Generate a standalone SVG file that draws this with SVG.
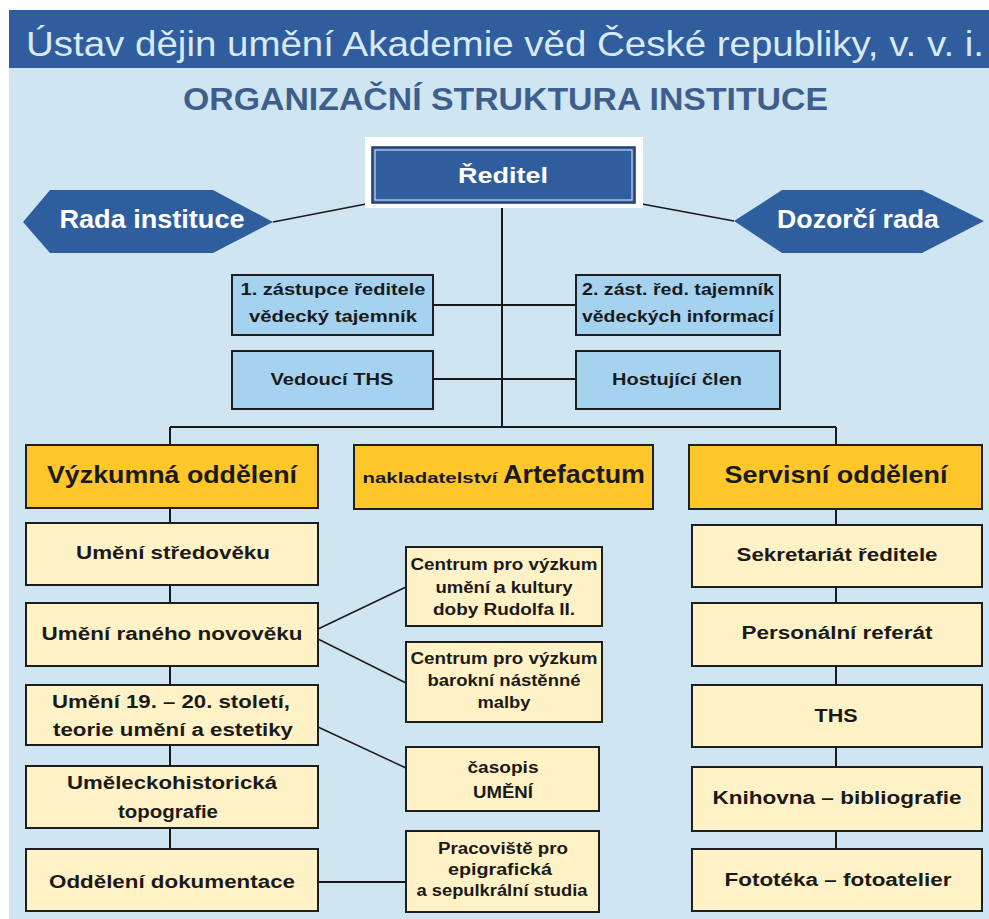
<svg xmlns="http://www.w3.org/2000/svg" width="989" height="919" viewBox="0 0 989 919">
<style>
text{font-family:"Liberation Sans",Arial,sans-serif;font-weight:bold;text-anchor:middle;fill:#1a1a1a}
.hdr{fill:#d9e9f6;font-weight:normal;text-anchor:start}
.ttl{fill:#3e5f8d;text-anchor:start}
.wt{fill:#ffffff}
.lb{fill:#a5d3ef;stroke:#1f1f1f;stroke-width:2}
.gd{fill:#ffc72a;stroke:#1f1f1f;stroke-width:2}
.cr{fill:#fff2c6;stroke:#1f1f1f;stroke-width:2}
.hex{fill:#2f5e9f}
.ln{stroke:#1a1a1a;stroke-width:2;fill:none}
.dl{stroke:#1a1a1a;stroke-width:1.5;fill:none}
.s17{font-size:17px}
.s18{font-size:18px}
.s16{font-size:16px}
.s24{font-size:24px}
</style>
<rect x="0" y="0" width="989" height="919" fill="#ffffff"/>
<rect x="9" y="68" width="980" height="851" fill="#cfe6f2"/>
<rect x="9" y="10" width="980" height="58" fill="#2f5d9e"/>
<text class="hdr" x="26" y="56" font-size="35" textLength="958" lengthAdjust="spacingAndGlyphs">Ústav dějin umění Akademie věd České republiky, v. v. i.</text>
<text class="ttl" x="183" y="110" font-size="31" textLength="645" lengthAdjust="spacingAndGlyphs">ORGANIZAČNÍ  STRUKTURA  INSTITUCE</text>

<g id="connectors">
<line class="ln" x1="502" y1="205" x2="502" y2="427"/>
<line class="ln" x1="170" y1="427" x2="836" y2="427"/>
<line class="ln" x1="170" y1="427" x2="170" y2="849"/>
<line class="ln" x1="836" y1="427" x2="836" y2="849"/>
<line class="ln" x1="433" y1="305" x2="576" y2="305"/>
<line class="ln" x1="433" y1="379" x2="576" y2="379"/>
<line class="dl" x1="273" y1="222" x2="366" y2="204"/>
<line class="dl" x1="642" y1="204" x2="734" y2="221"/>
<line class="dl" x1="318" y1="629" x2="406" y2="587"/>
<line class="dl" x1="318" y1="639" x2="406" y2="683"/>
<line class="dl" x1="318" y1="727" x2="406" y2="768"/>
<line class="ln" x1="318" y1="882" x2="406" y2="882"/>
</g>

<g id="reditel">
<rect x="365" y="137" width="278" height="71" fill="#ffffff"/>
<rect x="372" y="147" width="263" height="56" fill="#2f5d9e" stroke="#1d3a66" stroke-width="1.5"/>
<rect x="375" y="150" width="257" height="50" fill="none" stroke="#e8f0fa" stroke-width="1"/>
<text class="wt" x="503" y="183" font-size="22" textLength="90" lengthAdjust="spacingAndGlyphs">Ředitel</text>
</g>

<g id="rada-instituce">
<polygon class="hex" points="23,222 50,190 213,190 273,222 213,253 50,253"/>
<text class="wt" x="152" y="228" font-size="25" textLength="185" lengthAdjust="spacingAndGlyphs">Rada instituce</text>
</g>

<g id="dozorci-rada">
<polygon class="hex" points="734,221 782,190 922,190 984,221 922,253 782,253"/>
<text class="wt" x="858" y="228" font-size="25" textLength="162" lengthAdjust="spacingAndGlyphs">Dozorčí rada</text>
</g>

<g id="zastupce1">
<rect class="lb" x="232" y="275" width="201" height="60"/>
<text class="s17" x="333" y="295" textLength="185" lengthAdjust="spacingAndGlyphs">1. zástupce ředitele</text>
<text class="s17" x="333" y="322" textLength="168" lengthAdjust="spacingAndGlyphs">vědecký tajemník</text>
</g>

<g id="zastupce2">
<rect class="lb" x="576" y="275" width="204" height="60"/>
<text class="s17" x="678" y="295" textLength="192" lengthAdjust="spacingAndGlyphs">2. zást. řed. tajemník</text>
<text class="s17" x="678" y="322" textLength="192" lengthAdjust="spacingAndGlyphs">vědeckých informací</text>
</g>

<g id="vedouci-ths">
<rect class="lb" x="232" y="351" width="201" height="58"/>
<text class="s17" x="332" y="385" textLength="123" lengthAdjust="spacingAndGlyphs">Vedoucí THS</text>
</g>

<g id="hostujici-clen">
<rect class="lb" x="576" y="351" width="204" height="58"/>
<text class="s17" x="677" y="385" textLength="130" lengthAdjust="spacingAndGlyphs">Hostující člen</text>
</g>

<g id="vyzkumna">
<rect class="gd" x="26" y="445" width="292" height="63"/>
<text class="s24" x="172" y="483" textLength="250" lengthAdjust="spacingAndGlyphs">Výzkumná oddělení</text>
</g>

<g id="artefactum">
<rect class="gd" x="354" y="445" width="299" height="64"/>
<text x="430" y="483" font-size="15" textLength="135" lengthAdjust="spacingAndGlyphs">nakladatelství</text>
<text x="574" y="483" font-size="26" font-weight="normal" textLength="142" lengthAdjust="spacingAndGlyphs">Artefactum</text>
</g>

<g id="servisni">
<rect class="gd" x="689" y="445" width="293" height="64"/>
<text class="s24" x="836" y="483" textLength="223" lengthAdjust="spacingAndGlyphs">Servisní oddělení</text>
</g>

<g id="stredovek">
<rect class="cr" x="26" y="523" width="292" height="62"/>
<text class="s18" x="173" y="559" textLength="194" lengthAdjust="spacingAndGlyphs">Umění středověku</text>
</g>
<g id="novovek">
<rect class="cr" x="26" y="603" width="292" height="63"/>
<text class="s18" x="172" y="640" textLength="261" lengthAdjust="spacingAndGlyphs">Umění raného novověku</text>
</g>
<g id="stoleti">
<rect class="cr" x="26" y="685" width="292" height="60"/>
<text class="s18" x="171" y="708" textLength="238" lengthAdjust="spacingAndGlyphs">Umění 19. – 20. století,</text>
<text class="s18" x="173" y="736" textLength="240" lengthAdjust="spacingAndGlyphs">teorie umění a estetiky</text>
</g>
<g id="topografie">
<rect class="cr" x="26" y="766" width="292" height="62"/>
<text class="s18" x="172" y="789" textLength="210" lengthAdjust="spacingAndGlyphs">Uměleckohistorická</text>
<text class="s18" x="168" y="818" textLength="100" lengthAdjust="spacingAndGlyphs">topografie</text>
</g>
<g id="dokumentace">
<rect class="cr" x="26" y="849" width="292" height="62"/>
<text class="s18" x="172" y="888" textLength="246" lengthAdjust="spacingAndGlyphs">Oddělení dokumentace</text>
</g>

<g id="centrum-rudolf">
<rect class="cr" x="406" y="547" width="196" height="79"/>
<text class="s16" x="504" y="570" textLength="187" lengthAdjust="spacingAndGlyphs">Centrum pro výzkum</text>
<text class="s16" x="504" y="593" textLength="137" lengthAdjust="spacingAndGlyphs">umění a kultury</text>
<text class="s16" x="504" y="615" textLength="142" lengthAdjust="spacingAndGlyphs">doby Rudolfa II.</text>
</g>
<g id="centrum-barok">
<rect class="cr" x="406" y="642" width="196" height="80"/>
<text class="s16" x="504" y="664" textLength="187" lengthAdjust="spacingAndGlyphs">Centrum pro výzkum</text>
<text class="s16" x="504" y="686" textLength="153" lengthAdjust="spacingAndGlyphs">barokní nástěnné</text>
<text class="s16" x="504" y="708" textLength="53" lengthAdjust="spacingAndGlyphs">malby</text>
</g>
<g id="casopis">
<rect class="cr" x="406" y="747" width="193" height="64"/>
<text class="s16" x="503" y="773" textLength="71" lengthAdjust="spacingAndGlyphs">časopis</text>
<text class="s16" x="503" y="798" textLength="60" lengthAdjust="spacingAndGlyphs">UMĚNÍ</text>
</g>
<g id="pracoviste">
<rect class="cr" x="406" y="831" width="193" height="81"/>
<text class="s16" x="503" y="854" textLength="130" lengthAdjust="spacingAndGlyphs">Pracoviště pro</text>
<text class="s16" x="500" y="875" textLength="104" lengthAdjust="spacingAndGlyphs">epigrafická</text>
<text class="s16" x="502" y="896" textLength="171" lengthAdjust="spacingAndGlyphs">a sepulkrální studia</text>
</g>

<g id="sekretariat">
<rect class="cr" x="692" y="525" width="290" height="62"/>
<text class="s18" x="837" y="561" textLength="201" lengthAdjust="spacingAndGlyphs">Sekretariát ředitele</text>
</g>
<g id="personalni">
<rect class="cr" x="692" y="603" width="290" height="63"/>
<text class="s18" x="837" y="639" textLength="191" lengthAdjust="spacingAndGlyphs">Personální referát</text>
</g>
<g id="ths">
<rect class="cr" x="692" y="685" width="290" height="62"/>
<text class="s18" x="836" y="722" textLength="43" lengthAdjust="spacingAndGlyphs">THS</text>
</g>
<g id="knihovna">
<rect class="cr" x="692" y="767" width="290" height="64"/>
<text class="s18" x="837" y="804" textLength="249" lengthAdjust="spacingAndGlyphs">Knihovna – bibliografie</text>
</g>
<g id="fototeka">
<rect class="cr" x="692" y="849" width="290" height="62"/>
<text class="s18" x="838" y="886" textLength="227" lengthAdjust="spacingAndGlyphs">Fototéka – fotoatelier</text>
</g>
</svg>
